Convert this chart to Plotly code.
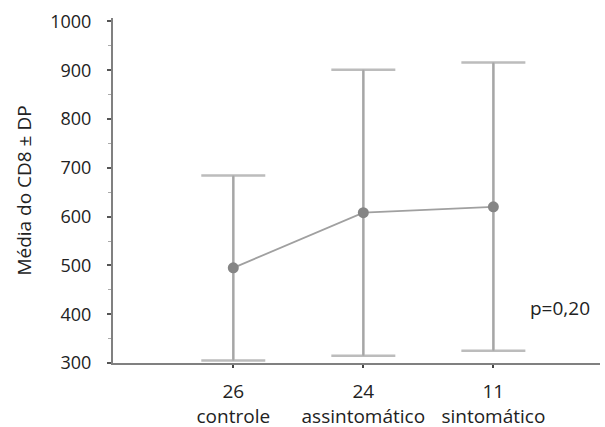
import plotly.graph_objects as go

groups = ["controle", "assintomático", "sintomático"]
n_vals = ["26", "24", "11"]
x_pos = [1, 2, 3]
means = [495, 608, 620]
upper = [684, 901, 916]
lower = [305, 315, 325]
y_ticks = [300, 400, 500, 600, 700, 800, 900, 1000]

err_plus = [u - m for u, m in zip(upper, means)]
err_minus = [m - l for m, l in zip(means, lower)]
tick_text = [f"{n}<br>{g}" for n, g in zip(n_vals, groups)]

FONT = "Open Sans"

fig = go.Figure()
# caps
fig.add_trace(go.Scatter(
    x=x_pos, y=means, mode="markers", marker=dict(size=1, color="rgba(0,0,0,0)"),
    error_y=dict(type="data", symmetric=False, array=err_plus, arrayminus=err_minus,
                 color="#bcbcbc", thickness=2.5, width=32),
    hoverinfo="skip", showlegend=False))
# vertical lines
fig.add_trace(go.Scatter(
    x=x_pos, y=means, mode="markers", marker=dict(size=1, color="rgba(0,0,0,0)"),
    error_y=dict(type="data", symmetric=False, array=err_plus, arrayminus=err_minus,
                 color="#a6a6a6", thickness=2, width=0),
    hoverinfo="skip", showlegend=False))
# mean line + markers
fig.add_trace(go.Scatter(
    x=x_pos, y=means, mode="lines+markers",
    line=dict(color="#a0a0a0", width=1.8),
    marker=dict(size=11, color="#858585"),
    showlegend=False))

fig.add_annotation(x=3.51, y=413, xref="x", yref="y", text="p=0,20", showarrow=False,
                   font=dict(size=19, color="#222", family=FONT))

fig.update_layout(
    width=605, height=427,
    margin=dict(l=113, r=5, t=18, b=64),
    paper_bgcolor="white", plot_bgcolor="white",
    font=dict(family=FONT, size=18, color="#222"),
    xaxis=dict(range=[0.075, 3.82], tickvals=x_pos, ticktext=tick_text, automargin=False,
               showline=True, linecolor="#808080", linewidth=2, showgrid=False,
               zeroline=False, ticks="outside", ticklen=3, tickwidth=2, tickcolor="#444",
               ticklabelstandoff=7,
               tickfont=dict(size=19, color="#222", family=FONT)),
    yaxis=dict(range=[300, 1007], tickvals=y_ticks, automargin=False,
               showline=True, linecolor="#808080", linewidth=2, showgrid=False,
               zeroline=False, ticks="outside", ticklen=4, tickwidth=2, tickcolor="#555",
               minor=dict(dtick=50, tick0=300, ticks="outside", ticklen=3, tickcolor="#aaa", tickwidth=1),
               ticklabelstandoff=12,
               tickfont=dict(size=18, color="#222", family=FONT),
               title=dict(text="Média do CD8 ± DP", font=dict(size=19, color="#222", family=FONT), standoff=14)),
)

fig.write_html("out.html", config={"displayModeBar": False},
               post_script="document.body.style.margin='0';document.body.style.overflow='hidden';")
